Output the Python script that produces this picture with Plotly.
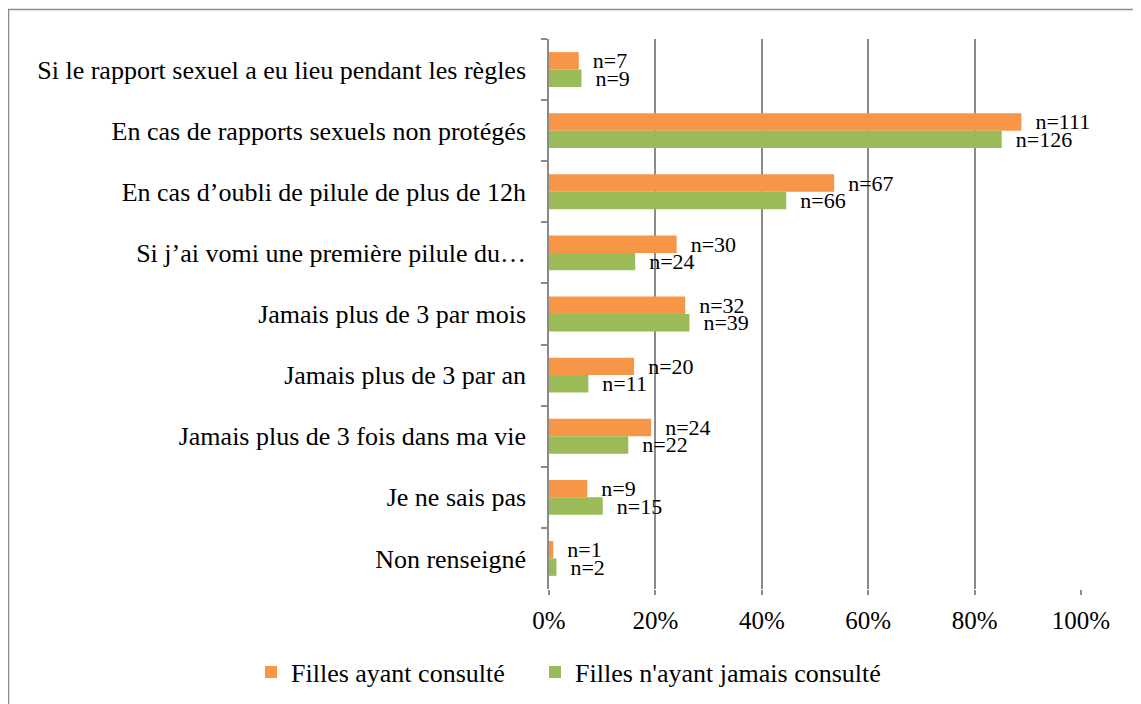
import plotly.graph_objects as go

categories = [
    "Si le rapport sexuel a eu lieu pendant les règles",
    "En cas de rapports sexuels non protégés",
    "En cas d’oubli de pilule de plus de 12h",
    "Si j’ai vomi une première pilule du…",
    "Jamais plus de 3 par mois",
    "Jamais plus de 3 par an",
    "Jamais plus de 3 fois dans ma vie",
    "Je ne sais pas",
    "Non renseigné",
]
series_names = ["Filles ayant consulté", "Filles n'ayant jamais consulté"]
pct_consulte = [5.6, 88.8, 53.6, 24.0, 25.6, 16.0, 19.2, 7.2, 0.8]
n_consulte = [7, 111, 67, 30, 32, 20, 24, 9, 1]
pct_jamais = [6.1, 85.1, 44.6, 16.2, 26.4, 7.4, 14.9, 10.1, 1.4]
n_jamais = [9, 126, 66, 24, 39, 11, 22, 15, 2]
x_ticks = [0, 20, 40, 60, 80, 100]

W, H = 1141, 704
# page is drawn with an 8px body offset; these are figure coordinates
L, R, T, B = 541, 1073, 31, 581
FONT = '"Liberation Serif", "Times New Roman", serif'
GRID = "#8a8a8a"


def px2x(px):
    return (px - L) / (R - L)


def py2y(py):
    return (B - py) / (B - T)


fig = go.Figure()
for name, vals, ns, color, lg in [
    (series_names[0], pct_consulte, n_consulte, "#F79646", "legend"),
    (series_names[1], pct_jamais, n_jamais, "#9BBB59", "legend2"),
]:
    fig.add_trace(go.Bar(
        y=categories, x=vals, name=name, orientation="h",
        marker=dict(color=color, line=dict(width=0)),
        text=["\u00a0\u00a0n=" + str(n) for n in ns],
        textposition="outside", constraintext="none", textangle=0,
        cliponaxis=False,
        textfont=dict(family=FONT, size=22, color="#000000"),
        hoverinfo="skip", legend=lg, showlegend=True,
    ))

legend_common = dict(
    orientation="h", xref="paper", yref="paper",
    xanchor="left", y=py2y(664), yanchor="middle",
    font=dict(family=FONT, size=26, color="#000000"),
    itemclick=False, bgcolor="rgba(0,0,0,0)",
)

fig.update_layout(
    width=W, height=H,
    margin=dict(l=L, r=W - R, t=T, b=H - B, autoexpand=False),
    paper_bgcolor="white", plot_bgcolor="white",
    barmode="group", bargap=0.43, bargroupgap=0,
    font=dict(family=FONT, size=26, color="#000000"),
    showlegend=True,
    legend=dict(x=px2x(243), **legend_common),
    legend2=dict(x=px2x(527), **legend_common),
    xaxis=dict(
        range=[0, 100], tickvals=x_ticks,
        ticktext=[f"{v}%" for v in x_ticks],
        showgrid=True, gridcolor=GRID, gridwidth=1.5,
        zeroline=False, showline=False,
        ticks="outside", ticklen=5, tickcolor=GRID, tickwidth=1.5,
        ticklabelstandoff=4,
        tickfont=dict(family=FONT, size=25, color="#000000"),
        fixedrange=True,
    ),
    yaxis=dict(
        autorange="reversed", type="category",
        showline=True, linecolor=GRID, linewidth=1.5,
        ticks="outside", tickson="boundaries", ticklen=6,
        tickcolor=GRID, tickwidth=1.5,
        ticklabelstandoff=16,
        showgrid=False, zeroline=False,
        tickfont=dict(family=FONT, size=26, color="#000000"),
        fixedrange=True,
    ),
    shapes=[dict(
        type="rect", xref="paper", yref="paper",
        x0=px2x(0.5), x1=px2x(1160), y0=py2y(1.5), y1=py2y(720),
        line=dict(color="#8c8c8c", width=1.5), fillcolor="rgba(0,0,0,0)",
        layer="below",
    )],
)

fig.write_html("out.html")
